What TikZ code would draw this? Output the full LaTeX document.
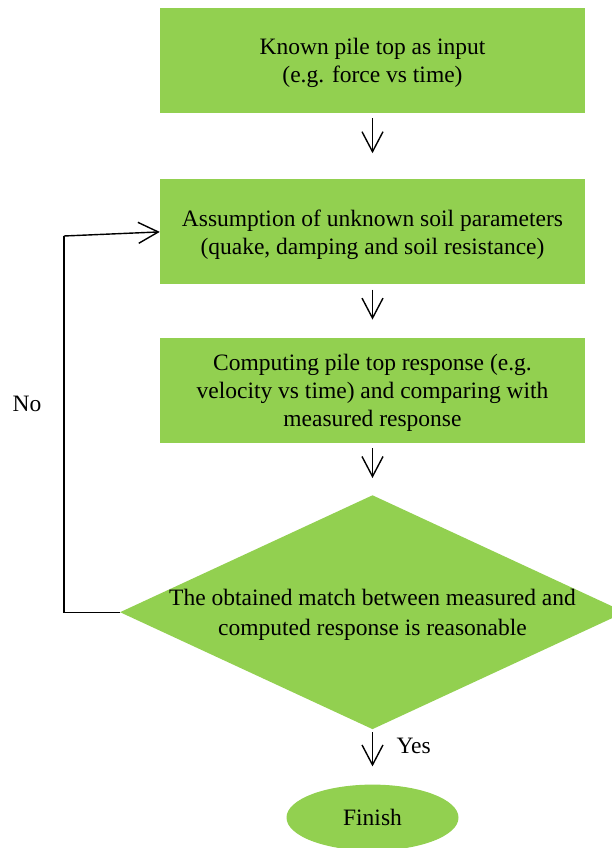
\documentclass[tikz,border=0pt]{standalone}
\usepackage{fontspec}
\setmainfont{Liberation Serif}
\usetikzlibrary{arrows.meta,positioning,shapes.geometric}
\definecolor{flowgreen}{HTML}{92D050}

\begin{document}
\begin{tikzpicture}[
    x=1pt, y=-1pt,
    node distance=66pt,
    box/.style={
        fill=flowgreen,
        minimum width=425pt,
        minimum height=105pt,
        align=center,
        text depth=0pt,
        font=\fontsize{23.5}{28}\selectfont
    },
    decision/.style={
        diamond,
        fill=flowgreen,
        aspect=2.16,
        inner sep=-6pt,
        minimum width=505pt,
        minimum height=234pt,
        align=center,
        text depth=0pt,
        font=\fontsize{23.5}{30}\selectfont
    },
    finish/.style={
        ellipse,
        fill=flowgreen,
        minimum width=172pt,
        minimum height=66pt,
        font=\fontsize{23.5}{28}\selectfont
    },
    arrow/.style={-{Straight Barb[length=20pt,width=21pt]}, line width=1.4pt, shorten <=5pt},
    line/.style={line width=1.4pt},
    mylabel/.style={font=\fontsize{23.5}{28}\selectfont},
    ]

    \useasboundingbox (0,0) rectangle (612,848);

    \node[box] (input) at (372.5,60.5) {Known pile top as input\\(e.g. force vs time)};
    \node[box, below=66pt of input] (assume) {Assumption of unknown soil parameters\\(quake, damping and soil resistance)};
    \node[box, below=53pt of assume] (compute) {Computing pile top response (e.g.\\velocity vs time) and comparing with\\measured response};
    \node[decision, below=52pt of compute] (match) {The obtained match between measured and\\computed response is reasonable};
    \node[finish, below=55pt of match] (fin) {Finish};

    \draw[arrow, shorten >=26pt] (input) -- (assume);
    \draw[arrow, shorten >=18pt] (assume) -- (compute);
    \draw[arrow, shorten >=17pt] (compute) -- (match);
    \draw[arrow, shorten <=3pt, shorten >=18pt] (match) -- node[mylabel, pos=0.3, right=20pt] (yes) {Yes} (fin);

    % loop back when the match is poor
    \coordinate (loop) at (64,236);
    \draw[line] (match.west) -| (loop);
    \draw[arrow, shorten <=0pt] (loop) -- (assume.west);
    \node[mylabel] (no) at (27,404) {No};
\end{tikzpicture}
\end{document}
